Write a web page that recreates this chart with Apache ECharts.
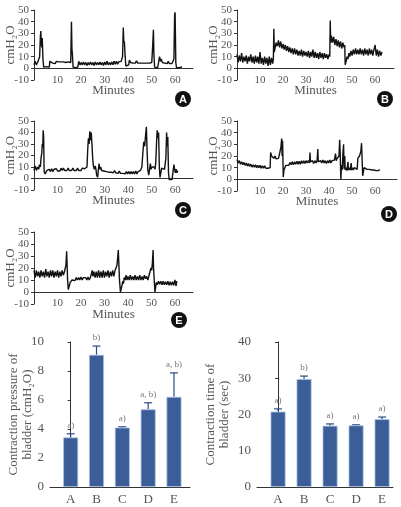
<!DOCTYPE html>
<html><head><meta charset="utf-8">
<script src="https://cdn.jsdelivr.net/npm/echarts@6/dist/echarts.min.js"></script>
<style>html,body{margin:0;padding:0;background:#fff}#c{width:401px;height:507px}</style>
</head><body><div id="c"></div><script>
// ---- Data ----
const traceA = [[0,3],[0.5,6],[1,3],[1.5,5],[2,4],[2.4,10],[2.7,27],[2.9,32],[3.1,22],[3.3,18],[3.5,26],[3.8,8],[4.1,1],[4.5,2],[4.9,0.5],[5.3,1.5],[5.7,0.5],[6.1,1.5],[6.5,1],[6.7,6],[7,4.5],[7.5,6],[8,4.5],[8.5,5.5],[9,4],[9.5,6],[10,4.5],[10.5,5.5],[11,4],[11.5,5.5],[12,4.5],[12.5,5.5],[13,4],[13.5,5],[14,4.5],[14.5,5.5],[15,4],[15.6,5],[15.9,40],[16.1,17],[16.3,12],[16.6,1],[17,2],[17.5,0.5],[18,1.5],[18.6,1],[19,6],[19.5,3],[20,5],[20.5,3],[21,5.5],[21.5,3],[22,5],[22.5,2.5],[23,5],[23.5,3],[24,5.5],[24.5,3],[25,5],[25.5,2.5],[26,5.5],[26.5,3],[27,5],[27.5,3],[28,5.5],[28.5,3],[29,5],[29.5,2.5],[30,5.5],[30.5,3],[31,6],[31.5,3],[32,5],[32.5,3],[33,5.5],[33.5,3],[34,6],[34.5,3.5],[35,6],[35.5,3.5],[36,5.5],[36.5,4],[37,6],[37.6,10],[37.9,35],[38.1,24],[38.4,22],[38.7,10],[39,2],[39.4,3],[39.8,2],[40.2,3],[40.5,7],[41,5],[41.5,6.5],[42,4.5],[42.5,6],[43,4.5],[43.5,6.5],[44,4.5],[44.5,6],[45,4.5],[45.5,6],[46,4.5],[46.5,6],[47,4.5],[47.5,6],[48,4.5],[48.5,6],[49,4.5],[49.5,6],[50,5],[50.4,20],[50.7,33],[50.9,12],[51.2,1],[51.6,0.5],[52,1.5],[52.5,0.5],[53,1],[53.3,10],[53.7,6],[54,8],[54.5,5],[55,6.5],[55.5,4.5],[56,6],[56.5,4],[57,6],[57.5,4],[58,5.5],[58.5,4],[59,5],[59.4,8],[59.7,46],[59.9,48],[60.2,5],[60.5,0.5],[61,1.5],[61.5,0.5],[62,2],[62.5,1],[62.8,1.5]];
const traceB = [[0,12],[0.5,5],[1,11],[1.5,6],[2,13],[2.5,5],[3,10],[3.5,6],[4,11],[4.5,4],[5,10],[5.5,6],[6,12],[6.5,5],[7,10],[7.5,4],[8,11],[8.5,5],[9,10],[9.5,4],[10,14],[10.5,4],[11,9],[11.5,3],[12,10],[12.5,4],[13,9],[13.5,2],[14,10],[14.5,3],[15,9],[15.5,4],[15.8,8],[16,34],[16.2,14],[16.5,17],[17,22],[17.5,19],[18,24],[18.5,18],[19,23],[19.5,17],[20,21],[20.5,16],[21,20],[21.5,15],[22,19],[22.5,14],[23,18],[23.5,13],[24,17],[24.5,12],[25,17],[25.5,12],[26,16],[26.5,11],[27,15],[27.5,11],[28,16],[28.5,10],[29,15],[29.5,11],[30,14],[30.5,10],[31,15],[31.5,9],[32,14],[32.5,10],[33,16],[33.5,9],[34,14],[34.5,9],[35,13],[35.5,8],[36,14],[36.5,9],[37,13],[37.5,8],[38,13],[38.5,9],[39,12],[39.5,8],[40,12],[40.3,10],[40.5,41],[40.7,22],[41,28],[41.5,22],[42,27],[42.5,20],[43,25],[43.5,19],[44,24],[44.5,18],[45,23],[45.5,17],[46,22],[46.5,18],[46.8,20],[47,3],[47.4,6],[47.8,10],[48.2,8],[48.6,13],[49,10],[49.5,15],[50,11],[50.5,16],[51,12],[51.5,17],[52,12],[52.5,16],[53,12],[53.5,17],[54,12],[54.5,16],[55,11],[55.5,17],[56,12],[56.5,16],[57,11],[57.5,17],[58,12],[58.5,16],[59,11],[59.5,16],[60,20],[60.5,11],[61,16],[61.5,10],[62,15],[62.5,11],[63,14]];
const traceC = [[0,7],[0.5,11],[1,7],[1.5,10],[2,8],[2.3,12],[2.7,10],[3,18],[3.3,22],[3.5,30],[3.7,27],[3.9,42],[4.1,36],[4.3,6],[4.7,4],[5.1,5],[5.5,7],[6,5.5],[6.5,8],[7,6],[7.5,8.5],[8,6],[8.5,8],[9,6.5],[9.5,8.5],[10,6.5],[10.5,8],[11,6.5],[11.5,9],[12,7],[12.5,9],[13,7],[13.5,8.5],[14,7],[14.5,9],[15,7],[15.5,8.5],[16,7],[16.5,9],[17,7],[17.5,8.5],[18,7],[18.5,9],[19,7],[19.5,8.5],[20,7],[20.5,9],[21,7.5],[21.5,8.5],[22,8],[22.5,10],[22.8,25],[23.1,35],[23.4,30],[23.7,41],[24,33],[24.3,40],[24.6,30],[24.9,18],[25.2,11],[25.6,8],[26,11],[26.3,8],[26.6,3],[27,1],[27.3,2],[27.6,13],[27.9,8],[28.3,10],[28.7,7],[29.2,8.5],[29.7,6.5],[30.2,8],[30.7,6],[31.2,7.5],[31.7,5.5],[32.2,7],[32.7,5.5],[33.2,7],[33.7,5],[34.2,7],[34.7,5],[35.2,6.5],[35.7,4.5],[36.2,6.5],[36.7,4.5],[37.2,6],[37.7,4.5],[38.2,6],[38.7,4],[39.2,6],[39.7,4],[40.2,6],[40.7,4],[41.2,6],[41.7,4],[42.2,6],[42.7,4],[43.2,6.5],[43.7,4],[44.2,6],[44.7,4.5],[45.2,7],[45.8,10],[46.2,22],[46.6,32],[47,28],[47.3,36],[47.7,45],[48,25],[48.3,8],[48.7,3],[49,4],[49.4,13],[49.7,8],[50.1,10],[50.5,8.5],[51,10],[51.4,8],[51.7,14],[52,30],[52.3,42],[52.6,35],[52.9,40],[53.2,10],[53.5,1],[53.9,0],[54.2,9],[54.6,8],[55,10],[55.4,8],[55.8,9],[56,18],[56.3,40],[56.5,28],[56.8,36],[57.1,5],[57.4,-1],[58,0],[58.6,-1],[59.1,0],[59.4,12],[59.7,8],[60,5],[60.4,8],[60.7,5],[61,7]];
const traceD = [[0,17],[0.5,14],[1,16],[1.5,13],[2,15],[2.5,12.5],[3,14.5],[3.5,12],[4,14],[4.5,11.5],[5,13.5],[5.5,11],[6,13],[6.5,10.5],[7,12.5],[7.5,10.5],[8,12.5],[8.5,10],[9,12],[9.5,10],[10,12],[10.5,9.5],[11,11.5],[11.5,9.5],[12,11.5],[12.5,9.5],[13,11],[13.5,9.5],[14,11],[14.4,10],[14.6,23],[15,20],[15.5,21],[16,18],[16.5,20],[17,17.5],[17.5,19],[18,18],[18.5,22],[18.8,25],[19.1,28],[19.4,35],[19.6,20],[19.8,33],[20.1,2],[20.4,8],[20.8,10],[21.2,12],[21.6,11],[22,13.5],[22.5,12],[23,14.5],[23.5,12.5],[24,15],[24.5,12.5],[25,15],[25.5,13],[26,15.5],[26.5,13],[27,15.5],[27.5,13],[28,16],[28.5,13.5],[29,16],[29.5,13.5],[30,16],[30.5,14],[31,16],[31.5,14],[31.7,23],[31.9,15],[32.3,13.5],[32.8,16],[33.3,13.5],[33.8,16],[34.3,14],[34.8,16],[35.1,26],[35.3,15],[35.8,13.5],[36.3,16],[36.8,14],[37.3,16.5],[37.8,14],[38.3,16],[38.8,13.5],[39.3,16],[39.8,14],[40.3,16.5],[40.8,14],[41.3,16],[41.8,14.5],[42.3,16.5],[42.8,22],[43.1,16],[43.5,18],[43.9,17],[44.3,20],[44.6,34],[44.8,24],[45.1,0],[45.4,12],[45.7,8],[46,22],[46.3,30],[46.5,9],[46.8,20],[47,8],[47.4,10],[47.8,7.5],[48.2,15],[48.4,8],[48.8,10],[49.2,8],[49.6,14],[49.8,8],[50.2,10],[50.6,8],[51,10],[51.4,8.5],[51.8,10],[52.2,8.5],[52.5,18],[52.9,17],[53.2,20],[53.5,19],[53.8,24],[54.1,31],[54.3,20],[54.6,3],[54.9,2],[55.2,10],[55.6,9],[56,10],[56.5,8.5],[57,10],[57.5,8.5],[58,9.5],[58.5,8],[59,9.5],[59.5,8],[60,9],[60.5,7.5],[61,9],[61.5,7.5],[62,8.5]];
const traceE = [[0,18],[0.5,12],[1,18],[1.5,13],[2,17],[2.5,12],[3,18],[3.5,13],[4,17],[4.5,12],[5,19],[5.5,13],[6,17],[6.5,12],[7,18],[7.5,13],[8,18],[8.5,12],[9,17],[9.5,13],[10,18],[10.5,12],[11,17],[11.5,13],[12,18],[12.5,14],[13,17],[13.3,20],[13.6,22],[13.9,34],[14.1,23],[14.3,10],[14.6,2],[15,5],[15.4,8],[15.8,7],[16.2,10],[16.6,9],[17,11],[17.5,9.5],[18,12],[18.5,10],[19,12],[19.5,10],[20,12.5],[20.5,10],[21,12],[21.5,10.5],[22,12],[22.5,10],[23,12.5],[23.5,10],[24,12],[24.5,11],[24.8,18],[25.1,13],[25.5,17],[26,12],[26.5,17],[27,12],[27.5,18],[28,12],[28.5,17],[29,12],[29.5,18],[30,12],[30.5,17],[31,13],[31.5,18],[32,12],[32.5,17],[33,13],[33.5,18],[34,13],[34.5,18],[35,19],[35.3,22],[35.6,28],[35.9,35],[36.1,25],[36.4,10],[36.8,0],[37.1,-1],[37.4,5],[37.8,9],[38.1,7],[38.4,12],[38.8,10],[39.2,14],[39.6,10],[40,13],[40.5,10],[41,14],[41.5,10],[42,13],[42.5,10],[43,14],[43.5,10],[44,13],[44.5,10],[45,14],[45.5,10],[46,13],[46.5,10],[47,14],[47.5,11],[48,13],[48.5,10],[49,14],[49.5,15],[49.8,20],[50.1,18],[50.4,24],[50.7,35],[50.9,20],[51.2,10],[51.5,0],[51.8,-1],[52.1,8],[52.5,6],[53,9],[53.5,6.5],[54,9],[54.5,6],[55,9],[55.5,6],[56,8.5],[56.5,6],[57,9],[57.5,5.5],[58,8.5],[58.5,5.5],[59,8.5],[59.5,5.5],[60,10],[60.5,5],[60.8,9]];

const groups = ['A','B','C','D','E'];
const pressureMean = [3.42, 9.12, 4.1, 5.36, 6.22];
const pressureErr  = [0.25, 0.6, 0.05, 0.45, 1.65];
const pressureSig  = ['a)','b)','a)','a, b)','a, b)'];
const timeMean = [20.8, 29.8, 16.9, 17.0, 18.7];
const timeErr  = [0.75, 0.8, 0.5, 0.15, 0.6];
const timeSig  = ['a)','b)','a)','a)','a)'];
const minuteTicks = [10,20,30,40,50,60];

// ---- Layout ----
const FONT = 'Liberation Serif';
const TXT = '#555';
const AX = '#333';
const panels = [
  {data: traceA, letter:'A', g:{left:34, top:10, width:159, height:70}, xMax:67.5, badge:[183,99]},
  {data: traceB, letter:'B', g:{left:237, top:10, width:157, height:70}, xMax:68.2, badge:[385,99]},
  {data: traceC, letter:'C', g:{left:34, top:121, width:159, height:69}, xMax:67.5, badge:[183,210]},
  {data: traceD, letter:'D', g:{left:237, top:121, width:160, height:70}, xMax:69.5, badge:[389,214]},
  {data: traceE, letter:'E', g:{left:34, top:232, width:159, height:72}, xMax:67.7, badge:[179,320]}
];

const grid = [], xAxis = [], yAxis = [], series = [], graphic = [];
panels.forEach((p, i) => {
  const gFull = 2 * i, gAxis = 2 * i + 1;
  grid.push({left:p.g.left, top:p.g.top, width:p.g.width, height:p.g.height});
  grid.push({left:p.g.left, top:p.g.top, width:p.g.width, height:p.g.height * 50 / 60});
  xAxis.push({type:'value', gridIndex:gFull, min:0, max:p.xMax, show:false});
  yAxis.push({
    type:'value', gridIndex:gFull, min:-10, max:50, interval:10,
    axisLine:{show:true, onZero:false, lineStyle:{color:AX, width:1}},
    axisTick:{show:true, length:3, lineStyle:{color:AX}},
    splitLine:{show:false},
    axisLabel:{fontSize:11, color:TXT, margin:5, fontFamily:FONT},
    name:'cmH\u2082O', nameLocation:'middle', nameGap:17, nameRotate:90, nameMoveOverlap:false,
    nameTextStyle:{fontSize:13, color:TXT, fontFamily:FONT}
  });
  xAxis.push({
    type:'value', gridIndex:gAxis, min:0, max:p.xMax, interval:10,
    axisLine:{onZero:false, lineStyle:{color:AX, width:1}},
    axisTick:{show:false}, splitLine:{show:false},
    axisLabel:{formatter:v => minuteTicks.indexOf(v) >= 0 ? String(v) : '', fontSize:11, color:TXT, margin:6, fontFamily:FONT},
    name:'Minutes', nameLocation:'middle', nameGap:16, nameMoveOverlap:false,
    nameTextStyle:{fontSize:13, color:TXT, fontFamily:FONT}
  });
  yAxis.push({type:'value', gridIndex:gAxis, min:0, max:50, show:false});
  series.push({
    type:'line', xAxisIndex:gFull, yAxisIndex:gFull, data:p.data, showSymbol:false, symbol:'none',
    lineStyle:{color:'#121212', width:1.4}, silent:true, animation:false
  });
  graphic.push({type:'circle', shape:{cx:p.badge[0], cy:p.badge[1], r:8}, style:{fill:'#111'}});
  graphic.push({type:'text', x:p.badge[0], y:p.badge[1]+0.5, style:{text:p.letter, fill:'#fff', font:'bold 11px "Liberation Sans"', align:'center', verticalAlign:'middle'}});
});

function barPanel(idx, gridDef, xMin, xMax, yMax, yInt, mean, err, sig, nameText, nameGap) {
  grid.push(gridDef);
  xAxis.push({
    type:'value', gridIndex:idx, min:xMin, max:xMax,
    axisLine:{onZero:false, lineStyle:{color:AX, width:1}},
    axisTick:{show:false}, splitLine:{show:false},
    axisLabel:{customValues:[0,1,2,3,4], formatter:v => groups[Math.round(v)] || '', fontSize:13, color:TXT, margin:6, fontFamily:FONT}
  });
  yAxis.push({
    type:'value', gridIndex:idx, min:0, max:yMax, interval:yInt,
    axisLine:{show:true, lineStyle:{color:AX, width:1}},
    axisTick:{show:true, length:3, lineStyle:{color:AX}},
    splitLine:{show:false},
    axisLabel:{fontSize:13, color:TXT, margin:6, fontFamily:FONT},
    name:nameText, nameLocation:'middle', nameGap:nameGap, nameRotate:90, nameMoveOverlap:false,
    nameTextStyle:{fontSize:13, color:TXT, fontFamily:FONT, lineHeight:14}
  });
  series.push({
    type:'bar', xAxisIndex:idx, yAxisIndex:idx, barWidth:15,
    data: mean.map((m, i) => [i, m]),
    itemStyle:{color:'#3b5e98', borderColor:'#a9c1e2', borderWidth:0.8}, animation:false
  });
  series.push({
    type:'custom', xAxisIndex:idx, yAxisIndex:idx,
    data: mean.map((m, i) => [i, m, m + err[i]]),
    renderItem:(params, api) => {
      const x = api.value(0);
      const p0 = api.coord([x, api.value(1)]);
      const p1 = api.coord([x, api.value(2)]);
      const st = {stroke:'#2b4b82', lineWidth:1.2};
      return {type:'group', children:[
        {type:'line', shape:{x1:p0[0], y1:p0[1], x2:p1[0], y2:p1[1]}, style:st},
        {type:'line', shape:{x1:p1[0]-4, y1:p1[1], x2:p1[0]+4, y2:p1[1]}, style:st},
        {type:'text', x:p1[0], y:p1[1]-4, style:{text:sig[params.dataIndex], align:'center', verticalAlign:'bottom', fontSize:9, fill:'#777', fontFamily:FONT}}
      ]};
    }, animation:false
  });
}
barPanel(10, {left:50, top:342, width:140, height:145}, -0.8, 4.62, 10, 2, pressureMean, pressureErr, pressureSig,
  'Contraction pressure of\nbladder (cmH\u2082O)', 15);
barPanel(11, {left:257, top:342, width:136, height:145}, -0.81, 4.42, 40, 10, timeMean, timeErr, timeSig,
  'Contraction time of\nbladder (sec)', 25);

const chart = echarts.init(document.getElementById('c'), null, {renderer:'canvas'});
chart.setOption({animation:false, grid, xAxis, yAxis, series, graphic});
</script></body></html>
